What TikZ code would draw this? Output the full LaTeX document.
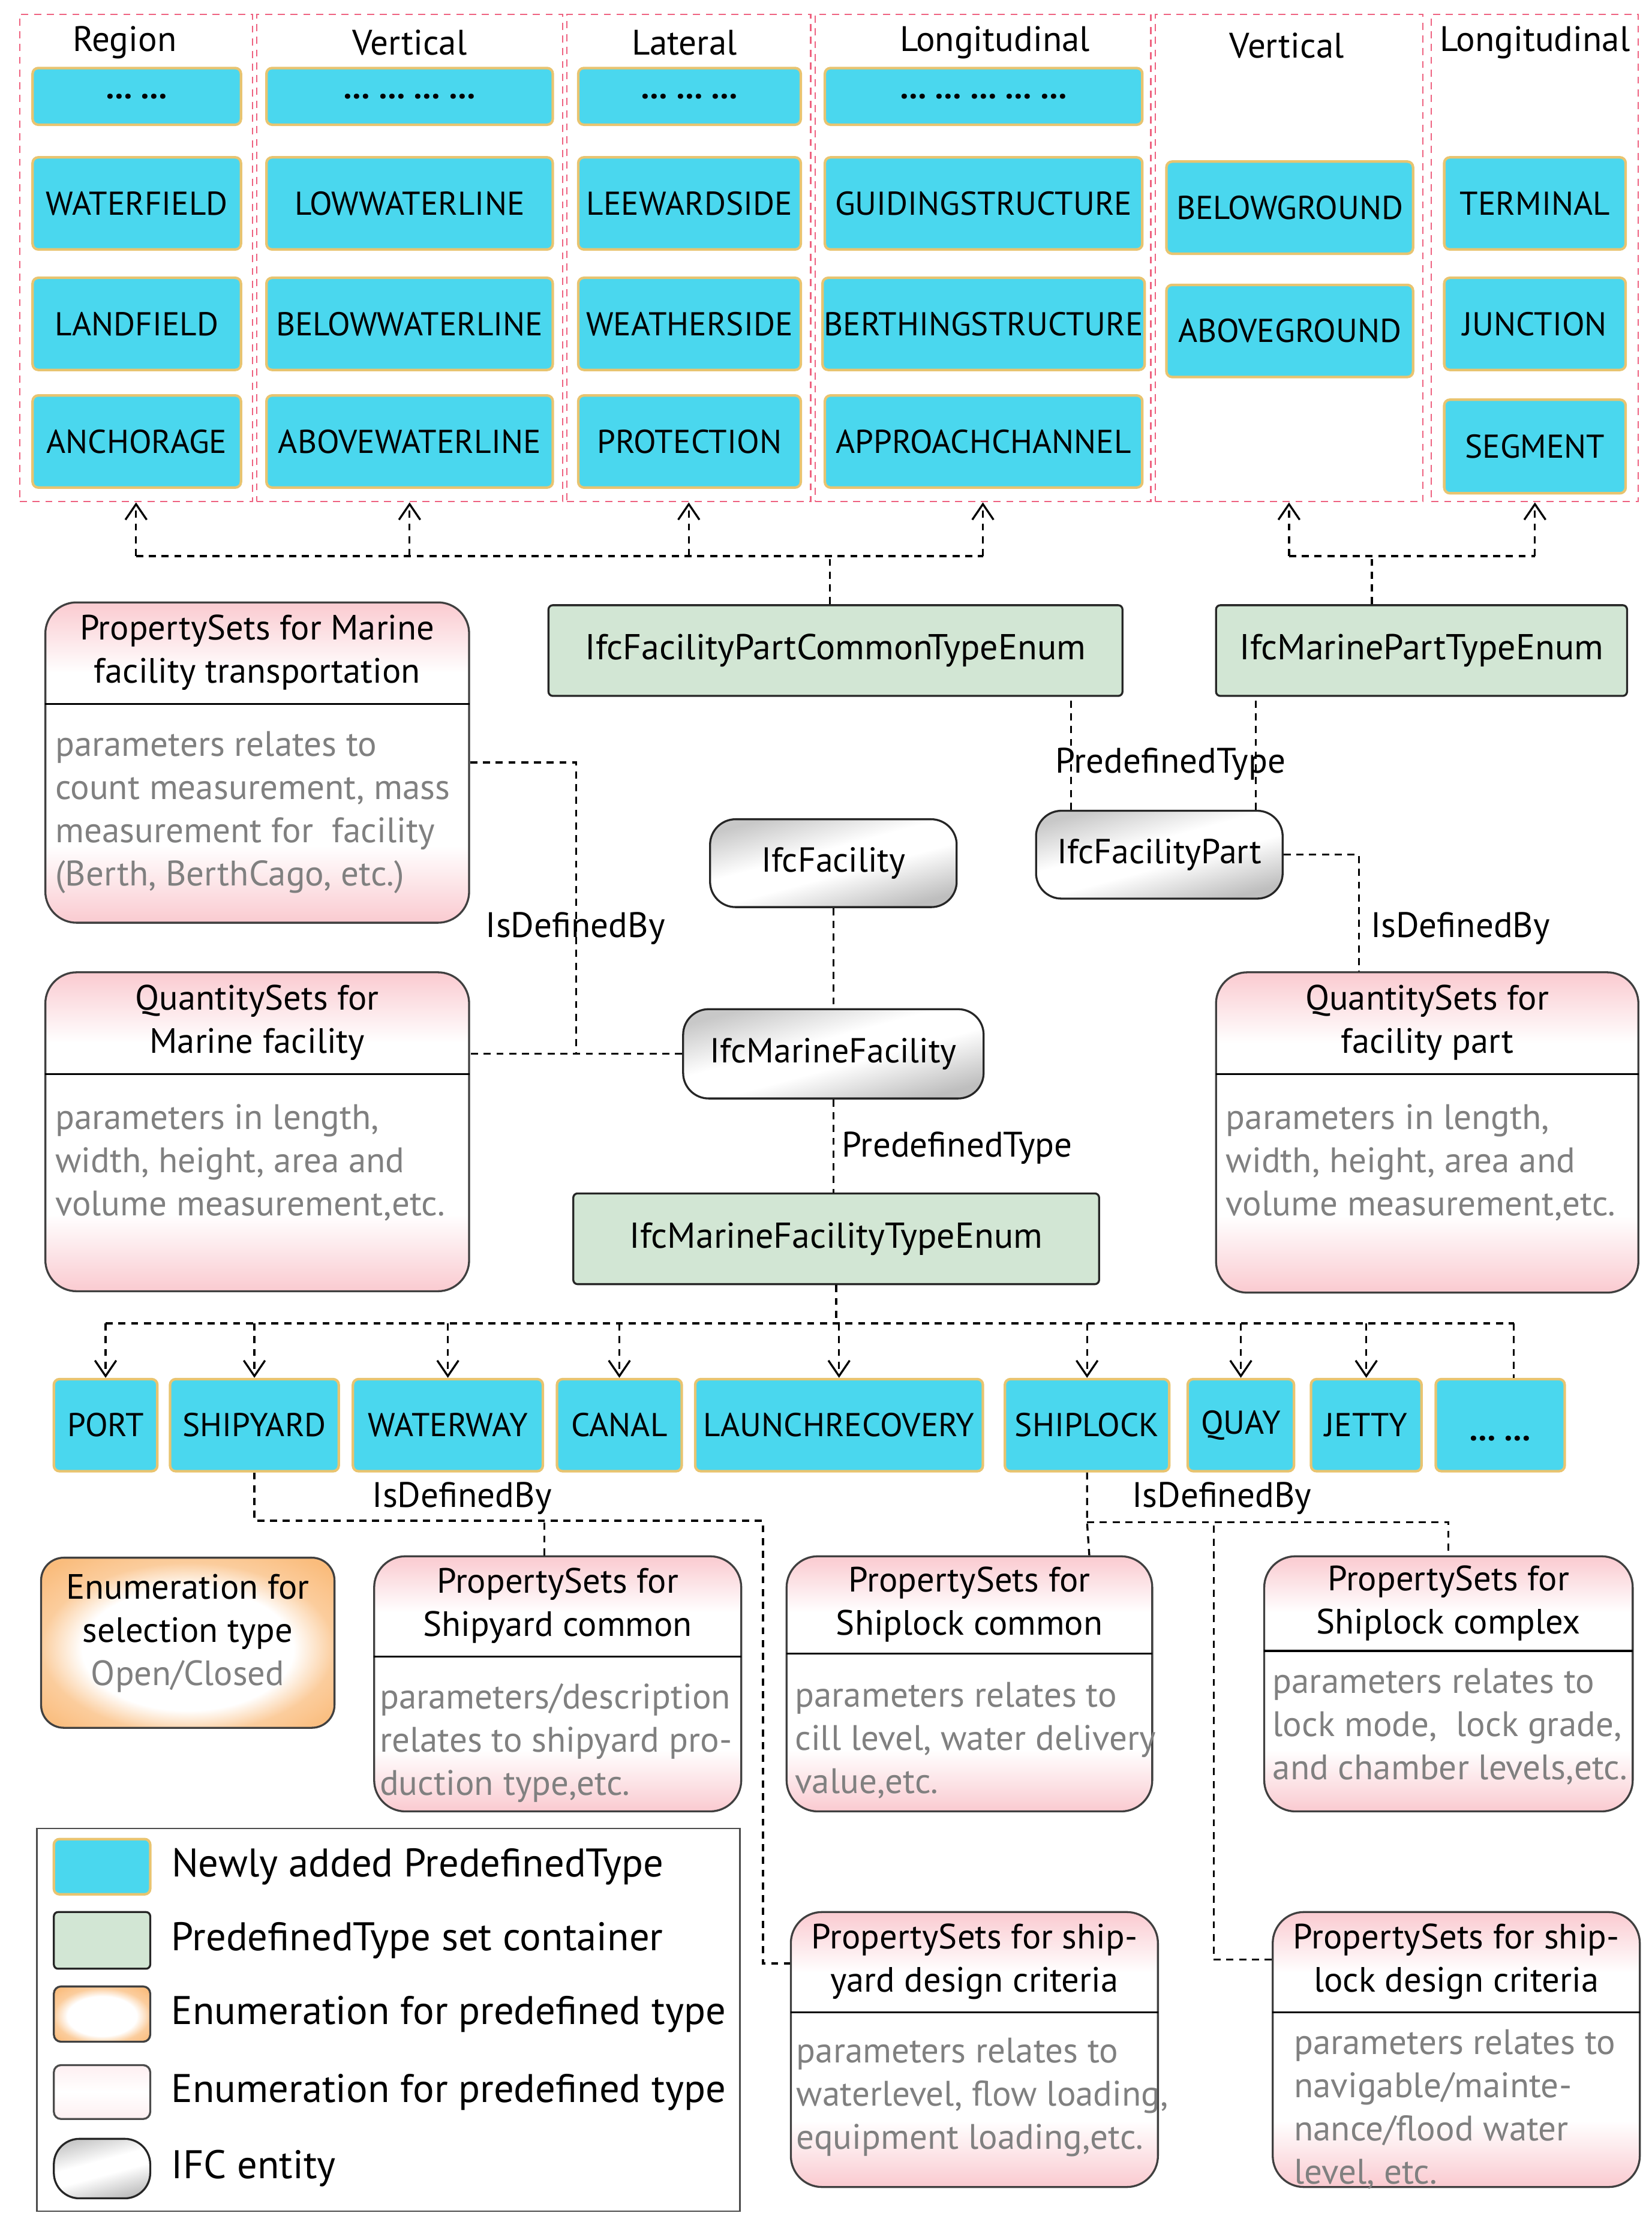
\documentclass[tikz,border=0pt]{standalone}
\usepackage{fontspec}
\setmainfont{PT Sans}
\usepackage{xcolor}
\usepackage{tikz}
\usetikzlibrary{shapes,arrows.meta,positioning,calc}
\definecolor{typecyan}{RGB}{74,215,238}
\definecolor{typegold}{RGB}{232,196,112}
\definecolor{setgreen}{RGB}{210,230,212}
\definecolor{psetpink}{RGB}{250,202,208}
\definecolor{enumorange}{RGB}{250,188,124}
\definecolor{grpred}{RGB}{238,98,128}
\definecolor{bodygray}{RGB}{128,128,128}
\definecolor{entgray}{RGB}{190,190,190}
\pgfdeclareverticalshading{psetshade}{100bp}{color(0bp)=(psetpink); color(25bp)=(psetpink); color(37bp)=(white); color(64bp)=(white); color(75bp)=(psetpink); color(100bp)=(psetpink)}
\pgfdeclareverticalshading{entshade}{100bp}{color(0bp)=(entgray); color(25bp)=(entgray); color(45bp)=(white); color(56bp)=(white); color(75bp)=(entgray!85); color(100bp)=(entgray!85)}
\pgfdeclareradialshading{enumshade}{\pgfpoint{0bp}{-3bp}}{color(0bp)=(white); color(18bp)=(white); color(25bp)=(enumorange!75); color(33bp)=(enumorange); color(50bp)=(enumorange)}
\tikzset{
  lbl/.style={font=\fontsize{25}{30}\selectfont, inner sep=0pt, yshift=-2pt},
  grpframe/.style={draw=grpred, dash pattern=on 5pt off 4pt, line width=0.9pt},
  newtype/.style={draw=typegold, fill=typecyan, line width=1.8pt, rounded corners=4pt, inner sep=1pt, font=\fontsize{23.3}{28}\selectfont},
  container/.style={draw=black!85, fill=setgreen, line width=1.4pt, rounded corners=3pt, font=\fontsize{25.4}{30}\selectfont},
  entity/.style={draw=black!85, line width=1.4pt, rounded corners=18pt, shade, shading=entshade, shading angle=15, font=\fontsize{24.5}{30}\selectfont},
  pset/.style={draw=black!75, line width=1.4pt, rounded corners=22pt, shade, shading=psetshade},
  enumbox/.style={draw=black!75, line width=1.4pt, rounded corners=16pt, shade, shading=enumshade},
  psethead/.style={align=center, inner sep=0pt, font=\fontsize{24.8}{30.5}\selectfont},
  psetbody/.style={align=left, anchor=north west, text=bodygray, inner xsep=7pt, inner ysep=19pt, font=\fontsize{25}{30.5}\selectfont},
  legtxt/.style={inner sep=0pt, font=\fontsize{28.2}{32}\selectfont},
  link/.style={dash pattern=on 5pt off 4pt, line width=1.4pt},
  arr/.style={link, -{Straight Barb[length=11pt,width=15pt]}},
}
\begin{document}
\begin{tikzpicture}[x=1pt, y=-1pt]
    \useasboundingbox (0,0) rectangle (1165.5,1567.7);

    % Groups of new predefined types
    \node[grpframe, minimum width=164pt, minimum height=344pt] (grp1) at (96,182) {};
    \node[grpframe, minimum width=216pt, minimum height=344pt] (grp2) at (289,182) {};
    \node[grpframe, minimum width=172pt, minimum height=344pt] (grp3) at (486,182) {};
    \node[grpframe, minimum width=237pt, minimum height=344pt] (grp4) at (693.5,182) {};
    \node[grpframe, minimum width=189pt, minimum height=344pt] (grp5) at (909.5,182) {};
    \node[grpframe, minimum width=146pt, minimum height=344pt] (grp6) at (1083,182) {};
    \node[lbl] (grp1-t) at (88,28) {Region};
    \node[lbl] (grp2-t) at (289,28) {Vertical};
    \node[lbl] (grp3-t) at (483,28) {Lateral};
    \node[lbl] (grp4-t) at (702,28) {Longitudinal};
    \node[lbl] (grp5-t) at (908,30) {Vertical};
    \node[lbl] (grp6-t) at (1083,28) {Longitudinal};

    % Region
    \node[newtype, minimum width=147pt, minimum height=40pt] (g1dots) at (96.5,68) {\textbf{… …}};
    \node[newtype, minimum width=147pt, minimum height=65pt] (waterfield) at (96.5,143.5) {WATERFIELD};
    \node[newtype, minimum width=147pt, minimum height=65pt] (landfield) at (96.5,228.5) {LANDFIELD};
    \node[newtype, minimum width=147pt, minimum height=65pt] (anchorage) at (96.5,311.5) {ANCHORAGE};

    % Vertical
    \node[newtype, minimum width=202pt, minimum height=40pt] (g2dots) at (289,68) {\textbf{… … … …}};
    \node[newtype, minimum width=202pt, minimum height=65pt] (lowwl) at (289,143.5) {LOWWATERLINE};
    \node[newtype, minimum width=202pt, minimum height=65pt] (belowwl) at (289,228.5) {BELOWWATERLINE};
    \node[newtype, minimum width=202pt, minimum height=65pt] (abovewl) at (289,311.5) {ABOVEWATERLINE};

    % Lateral
    \node[newtype, minimum width=157pt, minimum height=40pt] (g3dots) at (486.5,68) {\textbf{… … …}};
    \node[newtype, minimum width=157pt, minimum height=65pt] (leeward) at (486.5,143.5) {LEEWARDSIDE};
    \node[newtype, minimum width=157pt, minimum height=65pt] (weather) at (486.5,228.5) {WEATHERSIDE};
    \node[newtype, minimum width=157pt, minimum height=65pt] (protection) at (486.5,311.5) {PROTECTION};

    % Longitudinal
    \node[newtype, minimum width=224pt, minimum height=40pt] (g4dots) at (694,68) {\textbf{… … … … …}};
    \node[newtype, minimum width=224pt, minimum height=65pt] (guiding) at (694,143.5) {GUIDINGSTRUCTURE};
    \node[newtype, minimum width=224pt, minimum height=65pt] (berthing) at (694,228.5) {BERTHINGSTRUCTURE};
    \node[newtype, minimum width=224pt, minimum height=65pt] (approach) at (694,311.5) {APPROACHCHANNEL};

    % Vertical (part)
    \node[newtype, minimum width=174pt, minimum height=65pt] (belowgr) at (910,146.5) {BELOWGROUND};
    \node[newtype, minimum width=174pt, minimum height=65pt] (abovegr) at (910,233.5) {ABOVEGROUND};

    % Longitudinal (part)
    \node[newtype, minimum width=128pt, minimum height=65pt] (terminal) at (1083,143.5) {TERMINAL};
    \node[newtype, minimum width=128pt, minimum height=65pt] (junction) at (1083,228.5) {JUNCTION};
    \node[newtype, minimum width=128pt, minimum height=66pt] (segment) at (1083,315) {SEGMENT};

    % Type enumerations
    \node[container, minimum width=405pt, minimum height=64pt] (cte) at (589.5,459) {IfcFacilityPartCommonTypeEnum};
    \node[container, minimum width=290pt, minimum height=64pt] (mpte) at (1003,459) {IfcMarinePartTypeEnum};
    \node[container, minimum width=371pt, minimum height=64pt] (mfte) at (590,874) {IfcMarineFacilityTypeEnum};

    % IFC entities
    \node[entity, minimum width=174pt, minimum height=62pt] (fac) at (588,609) {IfcFacility};
    \node[entity, minimum width=174pt, minimum height=62pt] (facpart) at (818,603) {IfcFacilityPart};
    \node[entity, minimum width=212pt, minimum height=63pt] (mfac) at (588,743.5) {IfcMarineFacility};

    % Links up to the groups
    \draw[link] ([xshift=-4pt]cte.north) -- ++(0,-34) coordinate (hubL);
    \draw[link] (grp1.south |- hubL) -- (grp4.south |- hubL);
    \foreach \g in {grp1,grp2,grp3,grp4}
        \draw[arr] (\g.south |- hubL) -- (\g.south);
    \draw[link] ([xshift=-35pt]mpte.north) -- ++(0,-34) coordinate (hubR);
    \draw[link] (grp5.south |- hubR) -- (grp6.south |- hubR);
    \foreach \g in {grp5,grp6}
        \draw[arr] (\g.south |- hubR) -- (\g.south);

    % Facility part
    \draw[link] (facpart.153) -- (facpart.153 |- cte.south);
    \draw[link] (facpart.25) -- (facpart.25 |- mpte.south);
    \node[lbl] (pdt-part) at (826,537) {PredefinedType};

    % Property and quantity sets of the facility
    \node[pset, minimum width=299pt, minimum height=226pt] (psmt) at (181.5,538) {};
    \node[psethead, minimum width=299pt, minimum height=72pt, anchor=north] (psmt-h) at (psmt.north) {PropertySets for Marine\\facility transportation};
    \draw[line width=1.4pt] (psmt-h.south west) -- (psmt-h.south east);
    \node[psetbody] (psmt-b) at (psmt-h.south west) {parameters relates to\\count measurement, mass\\measurement for\ \ facility\\(Berth, BerthCago, etc.)};

    \node[pset, minimum width=299pt, minimum height=225pt] (qsmf) at (181.5,798.5) {};
    \node[psethead, minimum width=299pt, minimum height=72pt, anchor=north] (qsmf-h) at (qsmf.north) {QuantitySets for\\Marine facility};
    \draw[line width=1.4pt] (qsmf-h.south west) -- (qsmf-h.south east);
    \node[psetbody, inner ysep=21pt] (qsmf-b) at (qsmf-h.south west) {parameters in length,\\width, height, area and\\volume measurement,etc.};

    \node[pset, minimum width=298pt, minimum height=226pt] (qsfp) at (1007,799) {};
    \node[psethead, minimum width=298pt, minimum height=72pt, anchor=north] (qsfp-h) at (qsfp.north) {QuantitySets for\\facility part};
    \draw[line width=1.4pt] (qsfp-h.south west) -- (qsfp-h.south east);
    \node[psetbody, inner ysep=21pt] (qsfp-b) at (qsfp-h.south west) {parameters in length,\\width, height, area and\\volume measurement,etc.};

    % Facility links
    \draw[link] (fac.south) -- (fac.south |- mfac.north);
    \draw[link] (mfac.south) -- (mfac.south |- mfte.north);
    \node[lbl, anchor=west] (pdt-fac) at (594,808) {PredefinedType};
    \draw[link] (mfac.west) -- (mfac.west -| qsmf.east);
    \draw[link] (psmt.east) -| ($(qsmf.east |- mfac.west)!0.5!(mfac.west)$);
    \node[lbl] (idb-fac) at (406,653) {IsDefinedBy};
    \draw[link] (facpart.east) -| (qsfp.113);
    \node[lbl, anchor=west] (idb-part) at (967,653) {IsDefinedBy};

    % Marine facility types
    \node[newtype, minimum width=73pt, minimum height=65pt] (port) at (74.5,1005.5) {PORT};
    \node[newtype, minimum width=119pt, minimum height=65pt] (shipyard) at (179.5,1005.5) {SHIPYARD};
    \node[newtype, minimum width=134pt, minimum height=65pt] (waterway) at (316,1005.5) {WATERWAY};
    \node[newtype, minimum width=88pt, minimum height=65pt] (canal) at (437,1005.5) {CANAL};
    \node[newtype, minimum width=203pt, minimum height=65pt] (launch) at (592,1005.5) {LAUNCHRECOVERY};
    \node[newtype, minimum width=116pt, minimum height=65pt] (shiplock) at (767,1005.5) {SHIPLOCK};
    \node[newtype, minimum width=75pt, minimum height=65pt] (quay) at (875.5,1005.5) {QUAY};
    \node[newtype, minimum width=78pt, minimum height=65pt] (jetty) at (964,1005.5) {JETTY};
    \node[newtype, minimum width=91pt, minimum height=65pt, text height=22pt, text depth=0pt] (more) at (1058.5,1005.5) {\textbf{… …}};

    \draw[link] (mfte.south) -- ++(0,27) coordinate (bus);
    \draw[link] (port.north |- bus) -- (more.74 |- bus);
    \draw[link] (more.74 |- bus) -- (more.74);
    \foreach \t in {port,shipyard,waterway,canal,launch,shiplock,quay,jetty}
        \draw[arr] (\t.north |- bus) -- (\t.north);

    % Selection type
    \node[enumbox, minimum width=207pt, minimum height=120pt] (selenum) at (132.5,1159) {};
    \node[psethead] (selenum-t) at (132.5,1152.5) {Enumeration for\\selection type\\\textcolor{bodygray}{Open/Closed}};

    % Shipyard sets
    \node[pset, minimum width=259pt, minimum height=180pt] (syc) at (393.5,1188) {};
    \node[psethead, minimum width=259pt, minimum height=71pt, anchor=north] (syc-h) at (syc.north) {PropertySets for\\Shipyard common};
    \draw[line width=1.4pt] (syc-h.south west) -- (syc-h.south east);
    \node[psetbody, inner xsep=4pt] (syc-b) at (syc-h.south west) {parameters/description\\relates to shipyard pro-\\duction type,etc.};

    \node[pset, minimum width=259pt, minimum height=194pt] (sydc) at (687.5,1446) {};
    \node[psethead, minimum width=259pt, minimum height=71pt, anchor=north] (sydc-h) at (sydc.north) {PropertySets for ship-\\yard design criteria};
    \draw[line width=1.4pt] (sydc-h.south west) -- (sydc-h.south east);
    \node[psetbody, inner xsep=4pt, inner ysep=18pt] (sydc-b) at (sydc-h.south west) {parameters relates to\\waterlevel, flow loading,\\equipment loading,etc.};

    % Shiplock sets
    \node[pset, minimum width=258pt, minimum height=180pt] (slc) at (684,1188) {};
    \node[psethead, minimum width=258pt, minimum height=69pt, anchor=north] (slc-h) at (slc.north) {PropertySets for\\Shiplock common};
    \draw[line width=1.4pt] (slc-h.south west) -- (slc-h.south east);
    \node[psetbody, inner xsep=6pt, inner ysep=20pt] (slc-b) at (slc-h.south west) {parameters relates to\\cill level, water delivery\\value,etc.};

    \node[pset, minimum width=260pt, minimum height=180pt] (slx) at (1022,1188) {};
    \node[psethead, minimum width=260pt, minimum height=67pt, anchor=north] (slx-h) at (slx.north) {PropertySets for\\Shiplock complex};
    \draw[line width=1.4pt] (slx-h.south west) -- (slx-h.south east);
    \node[psetbody, inner xsep=6pt, inner ysep=12pt] (slx-b) at (slx-h.south west) {parameters relates to\\lock mode,\ \ lock grade,\\and chamber levels,etc.};

    \node[pset, minimum width=259pt, minimum height=194pt] (sldc) at (1027.5,1446) {};
    \node[psethead, minimum width=259pt, minimum height=71pt, anchor=north] (sldc-h) at (sldc.north) {PropertySets for ship-\\lock design criteria};
    \draw[line width=1.4pt] (sldc-h.south west) -- (sldc-h.south east);
    \node[psetbody, inner xsep=15pt, inner ysep=12pt] (sldc-b) at (sldc-h.south west) {parameters relates to\\navigable/mainte-\\nance/flood water\\level, etc.};

    % IsDefinedBy links
    \draw[link] (shipyard.south) -- ++(0,34) coordinate (sybend) -| ([xshift=-19pt]sydc.155) -- (sydc.155);
    \draw[link] (syc.96) -- (syc.96 |- sybend);
    \node[lbl] (idb-yard) at (326,1055) {IsDefinedBy};
    \draw[link] (shiplock.south) -- ++(0,35) coordinate (slbend) -- (slc.47);
    \draw[link] (slbend) -| (slx.north);
    \draw[link] (sldc.154) -- ++(-41,0) coordinate (sljoin) -- (sljoin |- slbend);
    \node[lbl] (idb-lock) at (862,1055) {IsDefinedBy};

    % Legend
    \node[draw=black!70, line width=1pt, minimum width=496pt, minimum height=270pt] (legend) at (274,1425) {};
    \node[newtype, minimum width=68pt, minimum height=39pt] (lg1) at (72,1317) {};
    \node[container, minimum width=68pt, minimum height=40pt] (lg2) at (72,1369) {};
    \node[enumbox, rounded corners=5pt, minimum width=68pt, minimum height=39pt] (lg3) at (72,1421) {};
    \node[draw=black!70, line width=1.4pt, rounded corners=5pt, top color=psetpink!30, bottom color=psetpink!30, middle color=white, minimum width=68pt, minimum height=38pt] (lg4) at (72,1476) {};
    \node[entity, minimum width=68pt, minimum height=42pt] (lg5) at (72,1530) {};
    \node[legtxt, right=14pt of lg1] (lg1-t) {Newly added PredefinedType};
    \node[legtxt, right=14pt of lg2] (lg2-t) {PredefinedType set container};
    \node[legtxt, right=14pt of lg3] (lg3-t) {Enumeration for predefined type};
    \node[legtxt, right=14pt of lg4] (lg4-t) {Enumeration for predefined type};
    \node[legtxt, right=14pt of lg5] (lg5-t) {IFC entity};
\end{tikzpicture}
\end{document}
